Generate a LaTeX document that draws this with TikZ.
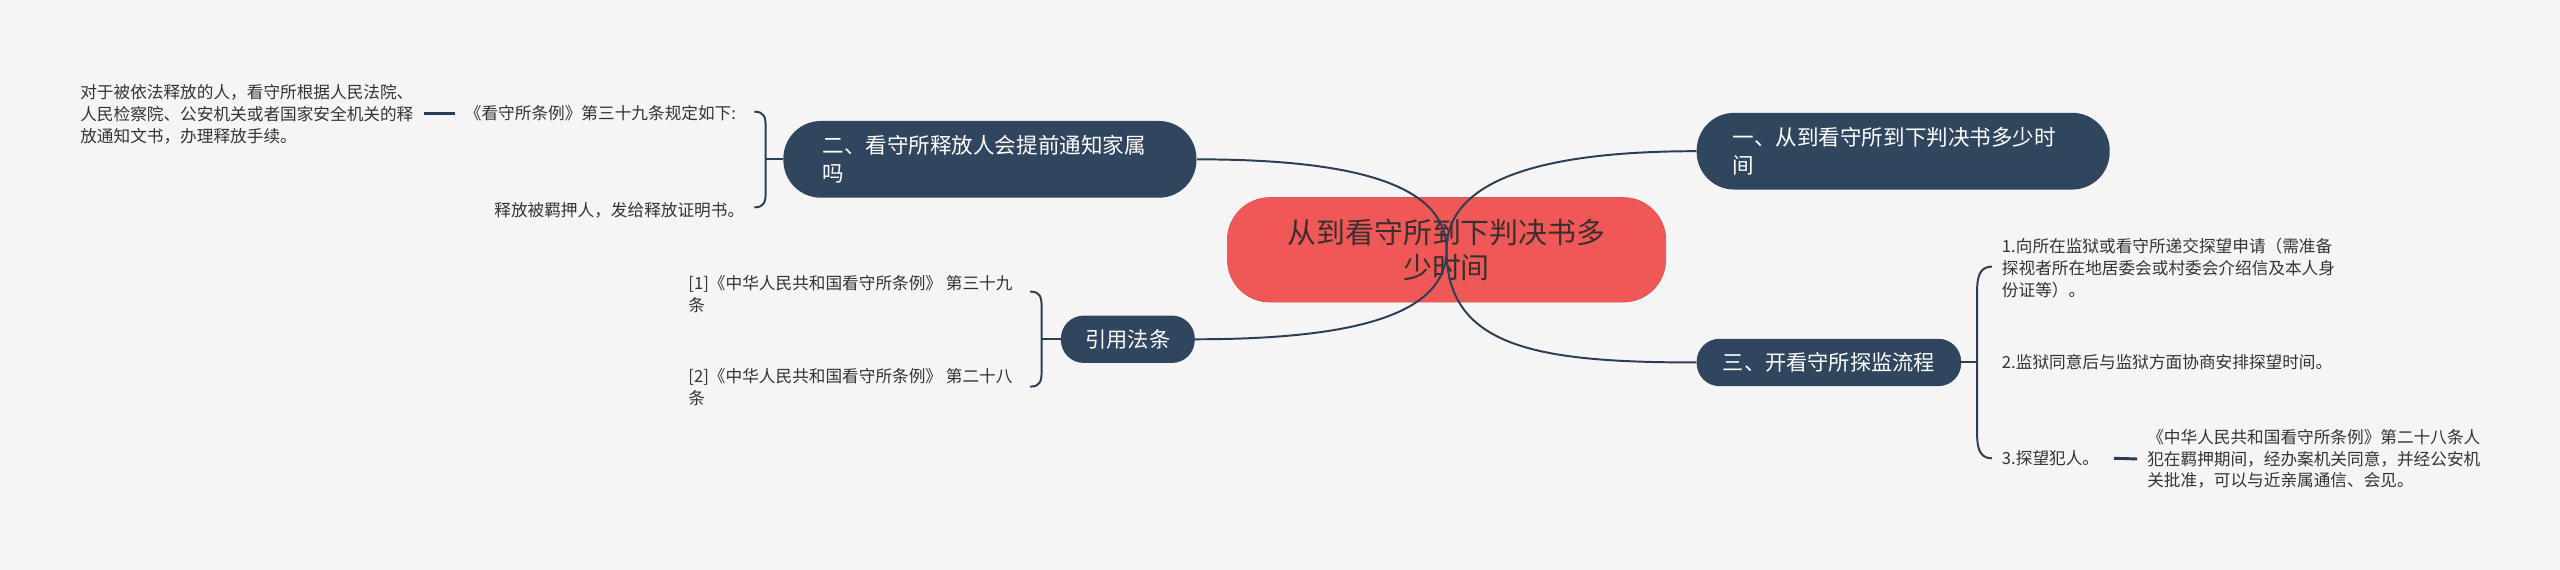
\documentclass[tikz,border=0pt]{standalone}
\usepackage{fontspec}
\setmainfont{Noto Sans CJK SC}
\usetikzlibrary{calc}
\definecolor{bgc}{HTML}{F5F5F5}
\definecolor{rootred}{RGB}{240,88,88}
\definecolor{darkblue}{RGB}{48,70,94}
\definecolor{linec}{RGB}{44,62,85}
\definecolor{leaftext}{HTML}{333333}
\definecolor{roottext}{HTML}{3A2E2E}
\tikzset{
  rootbox/.style={fill=rootred, draw=rootred!92!black, line width=0.4pt, rounded corners=26pt,
    minimum width=268.5pt, minimum height=64pt, align=center, text=roottext,
    font=\fontsize{17.7}{21.5}\selectfont, inner sep=0pt},
  darkbig/.style={fill=darkblue, rounded corners=23pt, text=white, align=left,
    font=\fontsize{13.2}{16.8}\selectfont, minimum height=47pt, inner ysep=0pt},
  darksmall/.style={fill=darkblue, rounded corners=14pt, text=white, align=center,
    font=\fontsize{13}{16.5}\selectfont, minimum height=29pt, inner ysep=0pt},
  leaf/.style={text=leaftext, align=left, inner sep=0pt,
    font=\fontsize{10.2}{13.4}\selectfont},
  leafr/.style={leaf, align=right},
  conn/.style={draw=linec, line width=1.2pt},
  bracket/.style={draw=linec, line width=1.2pt},
  tie/.style={draw=linec, line width=1.8pt}
}
\begin{document}
\begin{tikzpicture}[x=1pt,y=-1pt]
\fill[bgc] (0,0) rectangle (1568,349);
\useasboundingbox (0,0) rectangle (1568,349);

% root
\node[rootbox] (root) at (886,153) {从到看守所到下判决书多\\少时间};

% connectors from root (drawn over root)
\coordinate (n1w) at (1039,92.6);
\coordinate (n2e) at (733,97.6);
\coordinate (n3w) at (1039,222);
\coordinate (n4e) at (732,207.8);
\draw[conn] (root.center) .. controls ($(root.center)+(0,-42)$) and ($(n1w)+(-97,0)$) .. (n1w);
\draw[conn] (root.center) .. controls ($(root.center)+(0,-40)$) and ($(n2e)+(97,0)$) .. (n2e);
\draw[conn] (root.center) .. controls ($(root.center)+(0,60)$) and ($(n3w)+(-97,0)$) .. (n3w);
\draw[conn] (root.center) .. controls ($(root.center)+(0,40)$) and ($(n4e)+(97,0)$) .. (n4e);

% main branches
\node[darkbig, inner xsep=22pt, text width=209pt, anchor=west] (n1) at (n1w) {一、从到看守所到下判决书多少时\\间};
\node[darkbig, inner xsep=24pt, text width=205pt, anchor=east] (n2) at (n2e) {二、看守所释放人会提前通知家属\\吗};
\node[darksmall, minimum width=162pt, anchor=west] (n3) at (n3w) {三、开看守所探监流程};
\node[darksmall, minimum width=82pt, anchor=east] (n4) at (n4e) {引用法条};

% left branch of n2
\node[leaf, anchor=west] (l1) at (49,70) {对于被依法释放的人，看守所根据人民法院、\\人民检察院、公安机关或者国家安全机关的释\\放通知文书，办理释放手续。};
\node[leafr, anchor=east] (l2) at (451,69.4) {《看守所条例》第三十九条规定如下:};
\node[leafr, anchor=east] (l3) at (456,128.6) {释放被羁押人，发给释放证明书。};
\draw[tie] ($(l1.east)+(6,-0.6)$) -- ($(l2.west)+(-6,0)$);

\coordinate (b2t) at (462,68.4);
\coordinate (b2b) at (462,127);
\draw[bracket] (b2t) .. controls ($(b2t)+(6,0)$) and ($(b2t)+(7,3)$) .. ($(b2t)+(7,10)$)
  -- ($(b2b)+(7,-10)$) .. controls ($(b2b)+(7,-3)$) and ($(b2b)+(6,0)$) .. (b2b);
\draw[bracket] (469,97.6) -- (n2.west);

% left branch of n4
\node[leaf, anchor=west] (l4) at (421.5,180.2) {[1]《中华人民共和国看守所条例》 第三十九\\条};
\node[leaf, anchor=west] (l5) at (421.5,237.3) {[2]《中华人民共和国看守所条例》 第二十八\\条};
\coordinate (b4t) at (631,178.6);
\coordinate (b4b) at (631,236.8);
\draw[bracket] (b4t) .. controls ($(b4t)+(6,0)$) and ($(b4t)+(7,3)$) .. ($(b4t)+(7,10)$)
  -- ($(b4b)+(7,-10)$) .. controls ($(b4b)+(7,-3)$) and ($(b4b)+(6,0)$) .. (b4b);
\draw[bracket] (638,207.8) -- (n4.west);

% right branch of n3
\node[leaf, anchor=west] (r1) at (1226,164.3) {1.向所在监狱或看守所递交探望申请（需准备\\探视者所在地居委会或村委会介绍信及本人身\\份证等）。};
\node[leaf, anchor=west] (r2) at (1226,222) {2.监狱同意后与监狱方面协商安排探望时间。};
\node[leaf, anchor=west] (r3) at (1226,280.7) {3.探望犯人。};
\node[leaf, anchor=west] (r4) at (1315,281.1) {《中华人民共和国看守所条例》第二十八条人\\犯在羁押期间，经办案机关同意，并经公安机\\关批准，可以与近亲属通信、会见。};
\draw[tie] ($(r3.east)+(9,0)$) -- ($(r4.west)+(-6,0)$);

\coordinate (b3t) at (1220,163.3);
\coordinate (b3b) at (1220,280.7);
\draw[bracket] (b3t) .. controls ($(b3t)+(-6,0)$) and ($(b3t)+(-9,4)$) .. ($(b3t)+(-9,14)$)
  -- ($(b3b)+(-9,-14)$) .. controls ($(b3b)+(-9,-4)$) and ($(b3b)+(-6,0)$) .. (b3b);
\draw[bracket] (n3.east) -- (1211,222);
\end{tikzpicture}
\end{document}
